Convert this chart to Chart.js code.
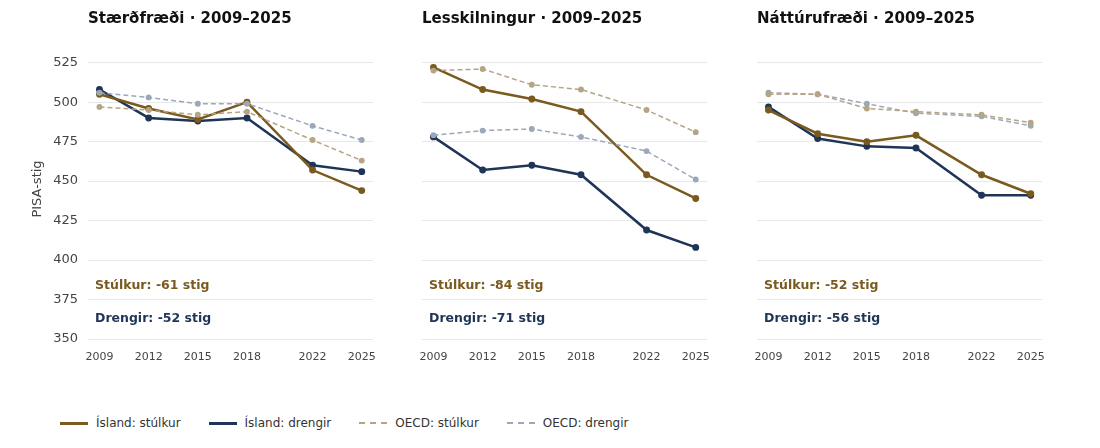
<!DOCTYPE html>
<html><head><meta charset="utf-8">
<script src="https://cdn.jsdelivr.net/npm/chart.js@4/dist/chart.umd.min.js"></script>
<style>
body{margin:0;background:#fff;font-family:"DejaVu Sans",sans-serif;width:1100px;height:448px;overflow:hidden;position:relative}
.c{position:absolute;top:0;width:380px;height:365px}
#legend{position:absolute;top:416px;left:60px;display:flex;font-size:12px;color:#333}
#legend div{display:flex;align-items:center;margin-right:28px}
#legend span.sw{display:inline-block;width:28px;height:0;margin-right:8px}
</style></head><body>
<div class="c" style="left:0"><canvas id="c0"></canvas></div>
<div class="c" style="left:334px"><canvas id="c1"></canvas></div>
<div class="c" style="left:669px"><canvas id="c2"></canvas></div>
<div id="legend">
<div><span class="sw" style="border-top:3px solid #7a5a1e"></span>Ísland: stúlkur</div>
<div><span class="sw" style="border-top:3px solid #1f3557"></span>Ísland: drengir</div>
<div><span class="sw" style="border-top:2px dashed #b5a585"></span>OECD: stúlkur</div>
<div><span class="sw" style="border-top:2px dashed #9aa8ba"></span>OECD: drengir</div>
</div>
<script>
Chart.defaults.font.family='"DejaVu Sans",sans-serif';
const years=[2009,2012,2015,2018,2022,2025];
const yTicks=[350,375,400,425,450,475,500,525];
const titles=["Stærðfræði · 2009–2025","Lesskilningur · 2009–2025","Náttúrufræði · 2009–2025"];
const islStulkur=[[505,496,489,500,457,444],[522,508,502,494,454,439],[495,480,475,479,454,442]];
const islDrengir=[[508,490,488,490,460,456],[478,457,460,454,419,408],[497,477,472,471,441,441]];
const oecdStulkur=[[497,495,492,494,476,463],[520,521,511,508,495,481],[505,505,496,494,492,487]];
const oecdDrengir=[[506,503,499,499,485,476],[479,482,483,478,469,451],[506,505,499,493,491,485]];
const notesS=["Stúlkur: -61 stig","Stúlkur: -84 stig","Stúlkur: -52 stig"];
const notesD=["Drengir: -52 stig","Drengir: -71 stig","Drengir: -56 stig"];
const pts=a=>years.map((y,i)=>({x:y,y:a[i]}));
for(let p=0;p<3;p++){
 const ds=[
  {data:pts(oecdStulkur[p]),borderColor:'#b5a585',backgroundColor:'#b5a585',borderDash:[5,3],borderWidth:1.5,pointRadius:2.2},
  {data:pts(oecdDrengir[p]),borderColor:'#9aa8ba',backgroundColor:'#9aa8ba',borderDash:[5,3],borderWidth:1.5,pointRadius:2.2},
  {data:pts(islStulkur[p]),borderColor:'#7a5a1e',backgroundColor:'#7a5a1e',borderWidth:2.5,pointRadius:2.2},
  {data:pts(islDrengir[p]),borderColor:'#1f3557',backgroundColor:'#1f3557',borderWidth:2.5,pointRadius:2.2}];
 new Chart(document.getElementById('c'+p),{type:'line',data:{datasets:ds},
 options:{responsive:true,maintainAspectRatio:false,animation:false,
  layout:{padding:{top:39,right:0,left:p===0?30:0,bottom:0}},
  plugins:{legend:{display:false},tooltip:{enabled:false}},
  scales:{
   x:{type:'linear',min:2008.3,max:2025.7,grid:{display:false},border:{display:false},
      afterBuildTicks:a=>{a.ticks=years.map(v=>({value:v}));},
      afterFit:a=>{a.height=26;},
      ticks:{color:'#444',font:{size:11},callback:v=>String(v),maxRotation:0,padding:4}},
   y:{min:350,max:540,grid:{color:'#e8e8e8',drawTicks:false},border:{display:false},
      afterBuildTicks:a=>{a.ticks=yTicks.map(v=>({value:v}));},
      afterFit:a=>{a.width=p===0?58:88;},
      title:{display:p===0,text:'PISA-stig',color:'#444',font:{size:13},padding:0},
      ticks:{display:p===0,color:'#444',font:{size:13},padding:10}}
  }},
 plugins:[{id:'txt',afterDraw(c){const ctx=c.ctx,L=c.chartArea.left;ctx.save();
   ctx.textBaseline='middle';ctx.textAlign='left';
   ctx.fillStyle='#111';ctx.font='bold 15px "DejaVu Sans",sans-serif';ctx.fillText(titles[p],L,19);
   ctx.font='bold 12.5px "DejaVu Sans",sans-serif';
   ctx.fillStyle='#7a5a1e';ctx.fillText(notesS[p],L+7,286);
   ctx.fillStyle='#1f3557';ctx.fillText(notesD[p],L+7,319);ctx.restore();}}]});
}
</script></body></html>
